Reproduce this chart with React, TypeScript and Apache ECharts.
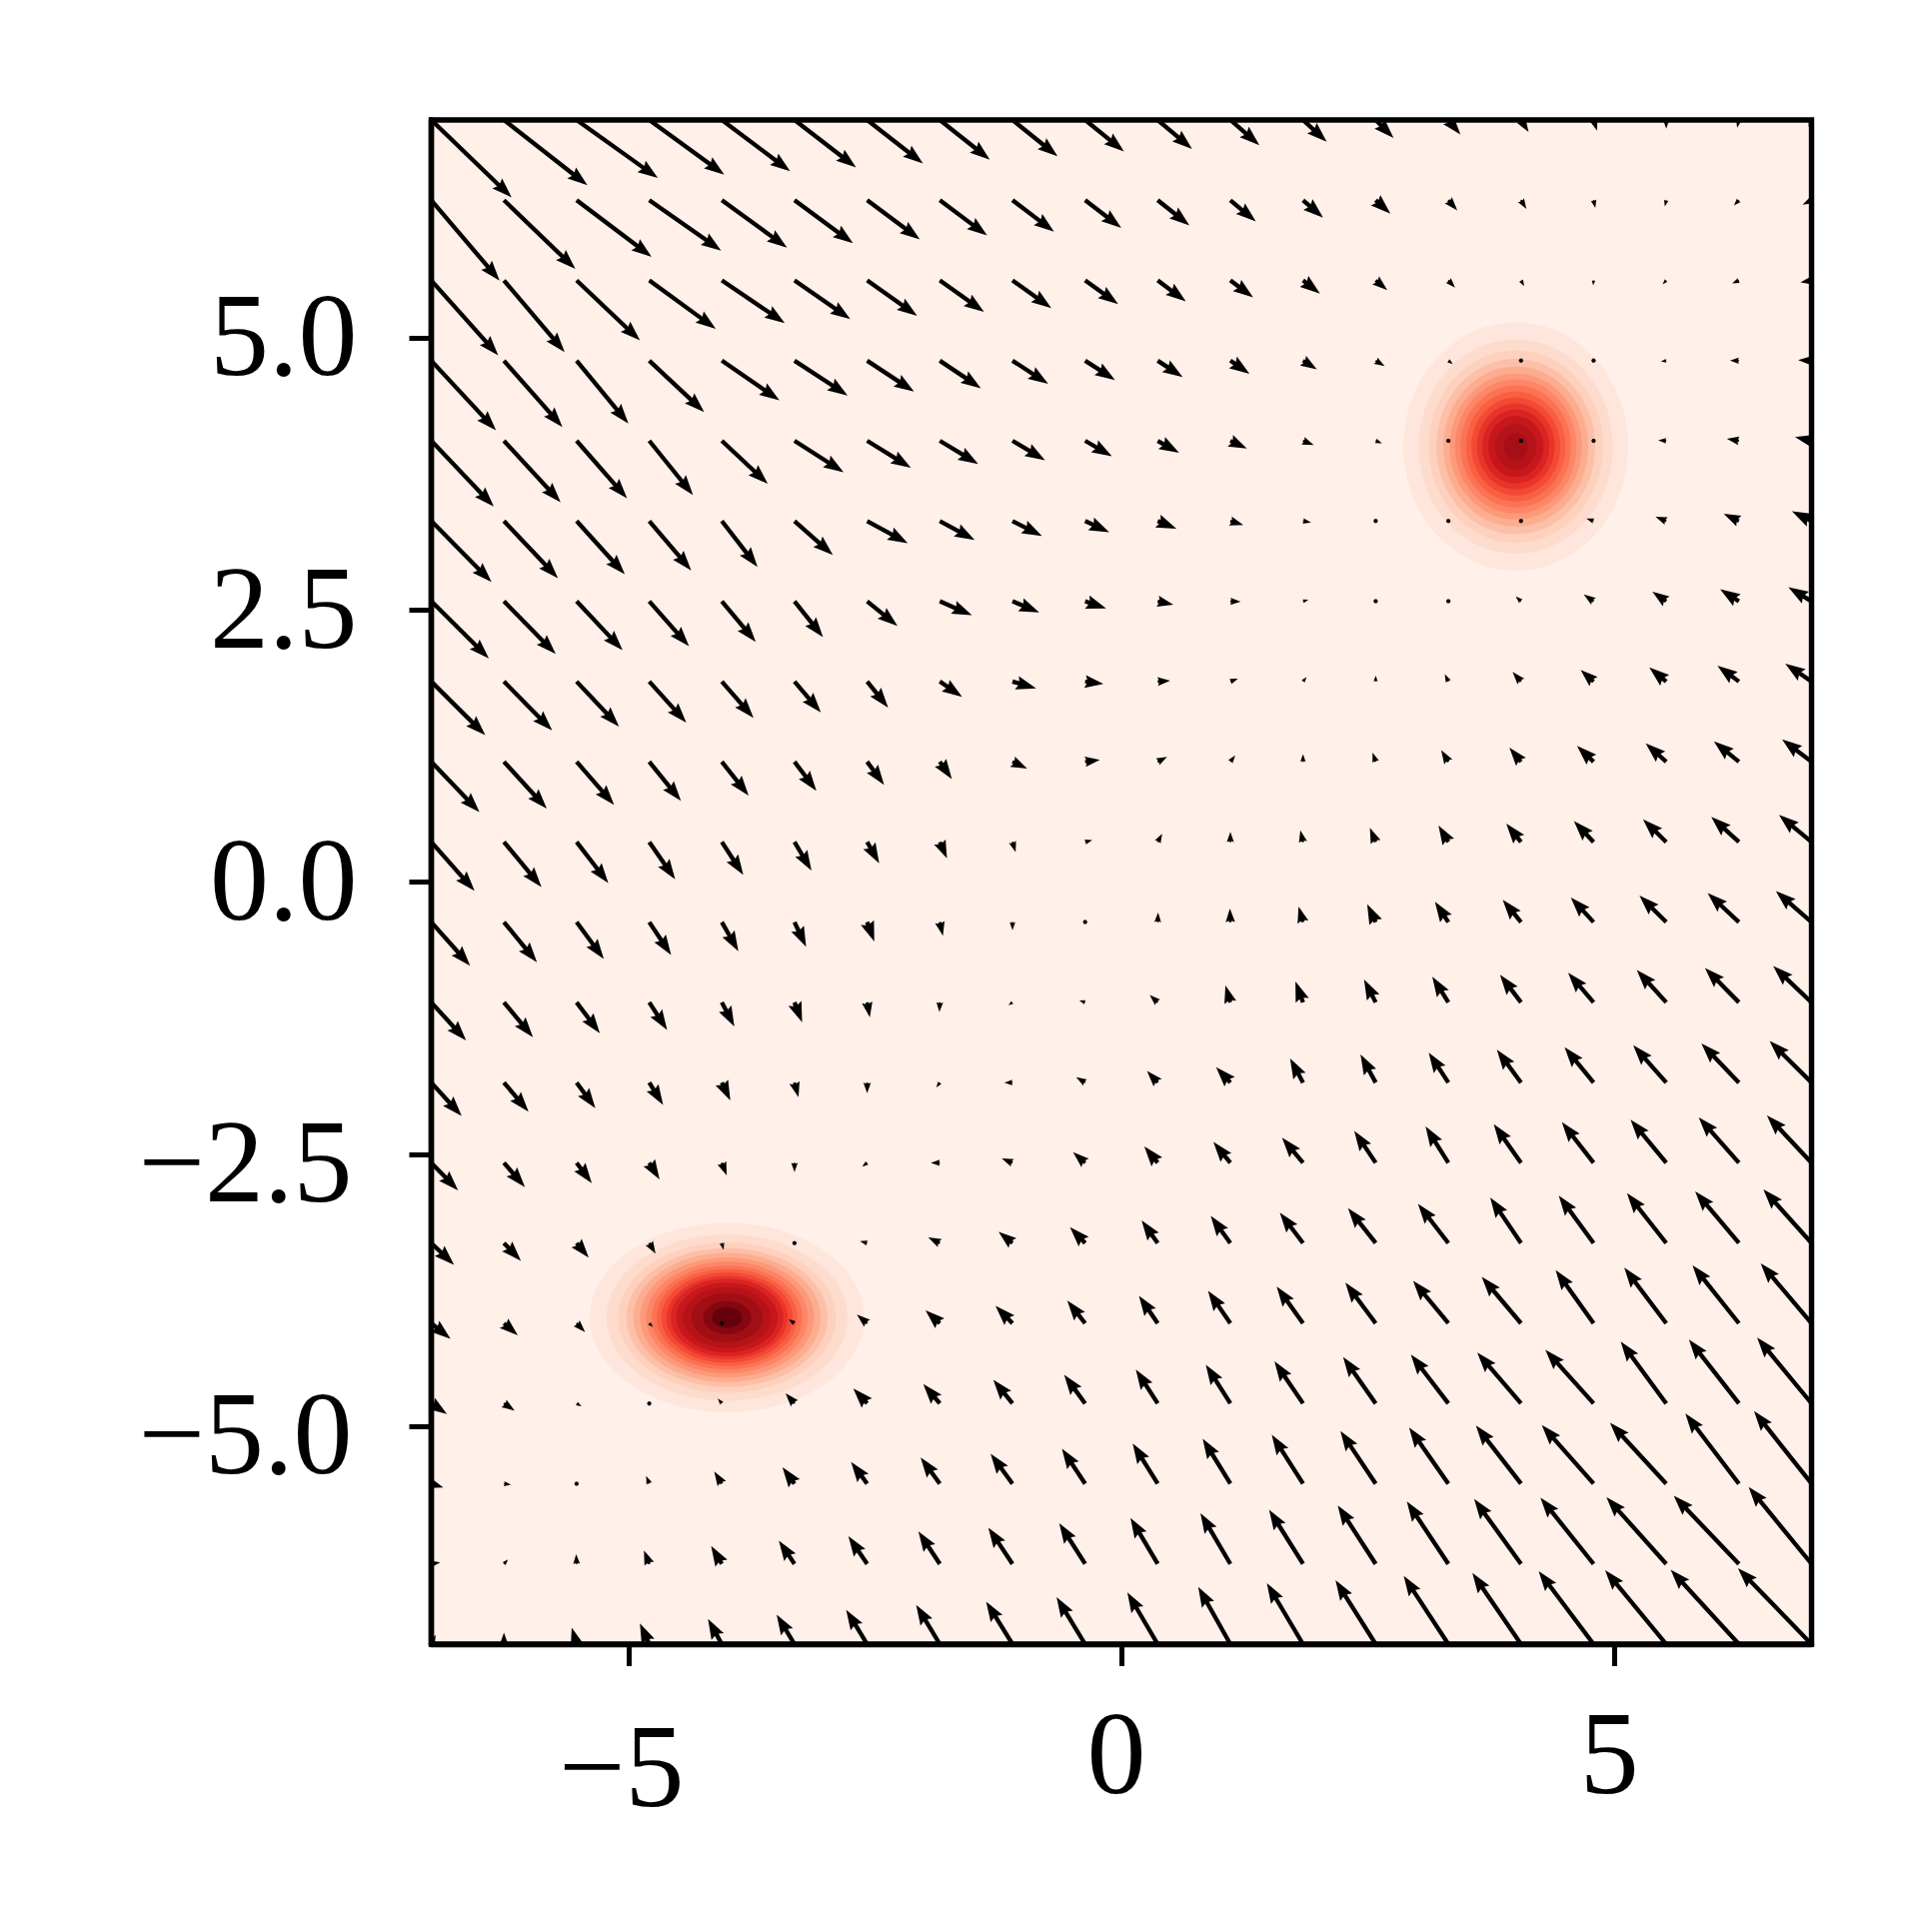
import React, { useEffect, useRef } from "react";
import * as echarts from "echarts";

const gridX = [-7, -6.263, -5.526, -4.789, -4.053, -3.316, -2.579, -1.842, -1.105, -0.368, 0.368, 1.105, 1.842, 2.579, 3.316, 4.053, 4.789, 5.526, 6.263, 7];
const gridY = [7, 6.263, 5.526, 4.789, 4.053, 3.316, 2.579, 1.842, 1.105, 0.368, -0.368, -1.105, -1.842, -2.579, -3.316, -4.053, -4.789, -5.526, -6.263, -7];

const vectorU = [
  [180,187,182,168,153,138,125,112,101,87,77,65,53,40,27,17,8,0,-4,-7],
  [153,160,168,161,146,131,118,106,93,81,71,57,45,33,20,12,4,-3,-11,-20],
  [150,136,142,149,141,125,112,99,87,74,63,51,38,26,15,7,-1,-8,-15,-25],
  [145,131,116,123,129,119,105,92,80,67,56,43,31,20,10,2,-2,-12,-20,-30],
  [140,127,113,98,103,110,98,86,73,60,48,37,24,14,1,0,-8,-18,-27,-37],
  [135,121,108,94,80,86,91,78,66,54,42,29,18,9,1,0,-16,-24,-34,-44],
  [129,116,103,89,76,64,68,72,60,47,35,23,12,0,0,-12,-22,-31,-42,-52],
  [121,108,95,83,71,59,47,50,53,41,28,17,8,0,-8,-19,-29,-38,-48,-59],
  [108,96,84,71,60,49,38,27,33,33,21,11,0,-7,-16,-26,-37,-46,-56,-66],
  [97,84,71,58,48,38,27,16,7,16,10,0,-6,-13,-22,-33,-44,-52,-62,-73],
  [87,74,61,49,37,26,16,7,0,0,1,-1,-10,-19,-30,-41,-51,-60,-70,-80],
  [78,65,52,40,28,17,6,-1,-9,-13,-18,-11,-17,-26,-36,-47,-57,-66,-76,-86],
  [68,55,42,31,19,9,0,-8,-18,-20,-24,-32,-29,-34,-44,-54,-65,-74,-84,-94],
  [60,47,34,23,11,0,-11,-20,-24,-27,-30,-38,-47,-48,-51,-61,-71,-80,-90,-100],
  [51,38,27,14,4,0,-16,-26,-31,-34,-36,-44,-52,-62,-68,-69,-78,-88,-98,-108],
  [43,31,19,8,0,-13,-23,-32,-38,-40,-42,-50,-59,-68,-79,-88,-85,-94,-104,-114],
  [35,24,11,0,-9,-20,-31,-37,-43,-47,-49,-55,-64,-73,-84,-98,-108,-102,-112,-122],
  [27,16,-3,-7,-17,-27,-36,-43,-49,-52,-56,-62,-70,-79,-88,-101,-116,-126,-120,-129],
  [20,9,-1,-12,-24,-35,-42,-48,-54,-58,-61,-67,-76,-85,-93,-105,-119,-134,-146,-141],
  [10,0,-11,-21,-31,-40,-47,-53,-59,-64,-68,-72,-81,-90,-100,-109,-123,-137,-153,-165],
];
const vectorV = [
  [-160,-135,-120,-113,-106,-98,-90,-82,-75,-65,-60,-52,-45,-37,-30,-25,-22,-18,-16,-14],
  [-166,-142,-117,-104,-98,-89,-81,-73,-65,-57,-52,-44,-36,-28,-21,-18,-16,-13,-11,-9],
  [-155,-148,-124,-100,-88,-80,-73,-65,-57,-49,-43,-35,-27,-20,-15,-12,-10,-8,-6,-4],
  [-144,-137,-130,-106,-82,-72,-64,-57,-48,-40,-34,-27,-18,-11,-7,-2,-1,-2,0,1],
  [-136,-127,-119,-112,-89,-65,-56,-48,-40,-32,-25,-16,-9,-5,0,0,0,1,4,8],
  [-126,-118,-110,-102,-95,-70,-46,-39,-31,-23,-16,-8,-3,0,1,1,5,9,15,20],
  [-118,-109,-101,-93,-84,-74,-51,-29,-23,-15,-7,-1,3,1,1,10,14,20,25,29],
  [-111,-101,-93,-85,-75,-64,-54,-32,-14,-5,2,6,9,12,15,20,24,29,33,37],
  [-104,-97,-89,-81,-70,-60,-48,-36,-14,4,10,13,16,19,24,29,33,38,42,46],
  [-101,-93,-85,-77,-68,-59,-44,-34,-21,4,17,21,24,29,34,38,43,47,52,56],
  [-90,-83,-76,-68,-60,-51,-40,-28,-17,0,20,28,32,37,42,46,51,55,60,64],
  [-79,-72,-64,-57,-50,-41,-31,-20,-6,4,15,35,43,47,53,57,61,67,71,75],
  [-69,-60,-53,-46,-37,-30,-22,-10,0,11,24,32,50,58,62,68,73,77,81,86],
  [-57,-50,-42,-34,-26,-19,-8,0,9,22,34,43,52,66,75,80,84,89,94,98],
  [-45,-37,-30,-22,-14,0,4,12,23,33,47,56,63,72,81,94,98,103,107,111],
  [-32,-25,-18,-8,0,8,18,27,36,47,57,67,76,84,88,96,110,115,120,124],
  [-22,-15,-6,0,10,21,31,40,49,59,70,80,87,96,101,105,111,128,132,136],
  [-8,-2,6,16,25,34,45,54,62,72,83,93,101,109,116,120,121,126,145,150],
  [3,9,20,28,37,48,57,67,75,84,95,105,112,121,129,134,137,138,141,159],
  [19,24,34,43,52,61,71,81,88,97,107,118,126,132,141,147,151,153,154,157],
];
const scaleU = 221;
const scaleV = 225;

const peakUpper = [4, 4];
const radiiUpper = [1.14, 0.985, 0.885, 0.805, 0.735, 0.67, 0.615, 0.56, 0.505, 0.45, 0.395, 0.34, 0.28, 0.21, 0.12];
const colorsUpper = ["#fee6dc", "#fddccd", "#fdd1be", "#fcbfa7", "#fcad90", "#fc997a", "#fc8667", "#fb7353", "#f85f43", "#f34935", "#e93529", "#d82422", "#c7171c", "#b51318", "#a60f15"];

const peakLower = [-4, -4];
const radiiLowerX = [1.392, 1.223, 1.105, 1.02, 0.95, 0.882, 0.82, 0.764, 0.713, 0.666, 0.615, 0.571, 0.514, 0.446, 0.361, 0.243, 0.152];
const radiiLowerY = [0.87, 0.764, 0.691, 0.638, 0.594, 0.551, 0.513, 0.478, 0.446, 0.416, 0.384, 0.357, 0.321, 0.279, 0.226, 0.152, 0.095];
const colorsLower = ["#fee6dc", "#fddccd", "#fdd1be", "#fcbfa7", "#fcad90", "#fc997a", "#fc8667", "#fb7353", "#f85f43", "#f34935", "#e93529", "#d82422", "#c7171c", "#b51318", "#a10e14", "#840711", "#67000d"];

const xTicks = [-5, 0, 5];
const xTickLabels = ["\u22125", "0", "5"];
const yTicks = [-5, -2.5, 0, 2.5, 5];
const yTickLabels = ["\u22125.0", "\u22122.5", "0.0", "2.5", "5.0"];

const FONT = "Liberation Serif";
const FONT_SIZE = 118;

export default function App() {
  const ref = useRef<HTMLDivElement>(null);
  useEffect(() => {
    const chart = echarts.init(ref.current!, undefined, { renderer: "svg" });
    const contourData: any[] = [];
    const contourFill: string[] = [];
    radiiUpper.forEach((r, i) => {
      contourData.push([peakUpper[0], peakUpper[1], r, r]);
      contourFill.push(colorsUpper[i]);
    });
    radiiLowerX.forEach((r, i) => {
      contourData.push([peakLower[0], peakLower[1], r, radiiLowerY[i]]);
      contourFill.push(colorsLower[i]);
    });
    const arrowData: number[][] = [];
    gridY.forEach((y, r) => gridX.forEach((x, c) => arrowData.push([x, y, vectorU[r][c] / scaleU, vectorV[r][c] / scaleV])));

    const W = 4.3, HL = 20, HA = 18, HW = 14, DOT = 4.6;
    const renderArrow = (_: any, api: any) => {
      const x = api.value(0), y = api.value(1);
      const t = api.coord([x, y]);
      const e = api.coord([x + api.value(2), y + api.value(3)]);
      const dx = e[0] - t[0], dy = e[1] - t[1];
      const len = Math.hypot(dx, dy);
      let pts: number[][];
      if (len < W) {
        pts = [0, 1, 2, 3, 4, 5].map((k) => [t[0] + (DOT / 2) * Math.cos((k * Math.PI) / 3), t[1] + (DOT / 2) * Math.sin((k * Math.PI) / 3)]);
      } else {
        const ca = dx / len, sa = dy / len;
        const s = len < HL ? len / HL : 1;
        const L = Math.max(len, HL);
        const shape = [[0, W / 2], [L - HA, W / 2], [L - HL, HW / 2], [L, 0], [L - HL, -HW / 2], [L - HA, -W / 2], [0, -W / 2]];
        pts = shape.map(([a, b]) => [t[0] + s * (a * ca - b * sa), t[1] + s * (a * sa + b * ca)]);
      }
      return { type: "polygon", shape: { points: pts }, style: { fill: "#000" } };
    };
    const renderRing = (params: any, api: any) => {
      const c = api.coord([api.value(0), api.value(1)]);
      const s = api.size([api.value(2), api.value(3)]);
      return { type: "ellipse", shape: { cx: c[0], cy: c[1], rx: s[0], ry: s[1] }, style: { fill: contourFill[params.dataIndex] } };
    };
    const labelStyle = { fontFamily: FONT, fontSize: FONT_SIZE, color: "#000" };
    chart.setOption({
      animation: false,
      backgroundColor: "#fff",
      grid: { left: 431.5, top: 120, width: 1381, height: 1525, show: true, backgroundColor: "#fff0e9", borderColor: "#000", borderWidth: 5.4 },
      xAxis: {
        type: "value", min: -7, max: 7,
        splitLine: { show: false },
        axisLine: { show: true, onZero: false, lineStyle: { color: "#000", width: 5.4 } },
        axisTick: { show: true, customValues: xTicks, length: 22, lineStyle: { color: "#000", width: 5 } },
        axisLabel: {
          show: true, customValues: xTicks, margin: 50, ...labelStyle,
          formatter: (v: number) => {
            const s = xTickLabels[xTicks.indexOf(v)];
            return v < 0 ? `{neg|${s}}` : `{pos|${s}}`;
          },
          rich: {
            neg: { ...labelStyle, padding: [13, 14, 0, 0] },
            pos: { ...labelStyle, padding: [0, 10, 0, 0] },
          },
        },
      },
      yAxis: {
        type: "value", min: -7, max: 7,
        splitLine: { show: false },
        axisLine: { show: true, onZero: false, lineStyle: { color: "#000", width: 5.4 } },
        axisTick: { show: true, customValues: yTicks, length: 22, lineStyle: { color: "#000", width: 5 } },
        axisLabel: {
          show: true, customValues: yTicks, margin: 74, ...labelStyle,
          formatter: (v: number) => {
            const s = yTickLabels[yTicks.indexOf(v)];
            return v < 0 ? `{neg|${s}}` : `{pos|${s}}`;
          },
          rich: {
            neg: { ...labelStyle, padding: [15, 5, 0, 0] },
            pos: { ...labelStyle, padding: [0, 0, 4, 0] },
          },
        },
      },
      series: [
        { type: "custom", name: "density", coordinateSystem: "cartesian2d", clip: true, silent: true, z: 1, renderItem: renderRing, encode: { x: 0, y: 1 }, data: contourData },
        { type: "custom", name: "field", coordinateSystem: "cartesian2d", clip: true, silent: true, z: 2, renderItem: renderArrow, encode: { x: 0, y: 1 }, data: arrowData },
      ],
    });
    return () => chart.dispose();
  }, []);
  return <div ref={ref} style={{ position: "absolute", left: 0, top: 0, width: 1933, height: 1933, background: "#fff" }} />;
}
